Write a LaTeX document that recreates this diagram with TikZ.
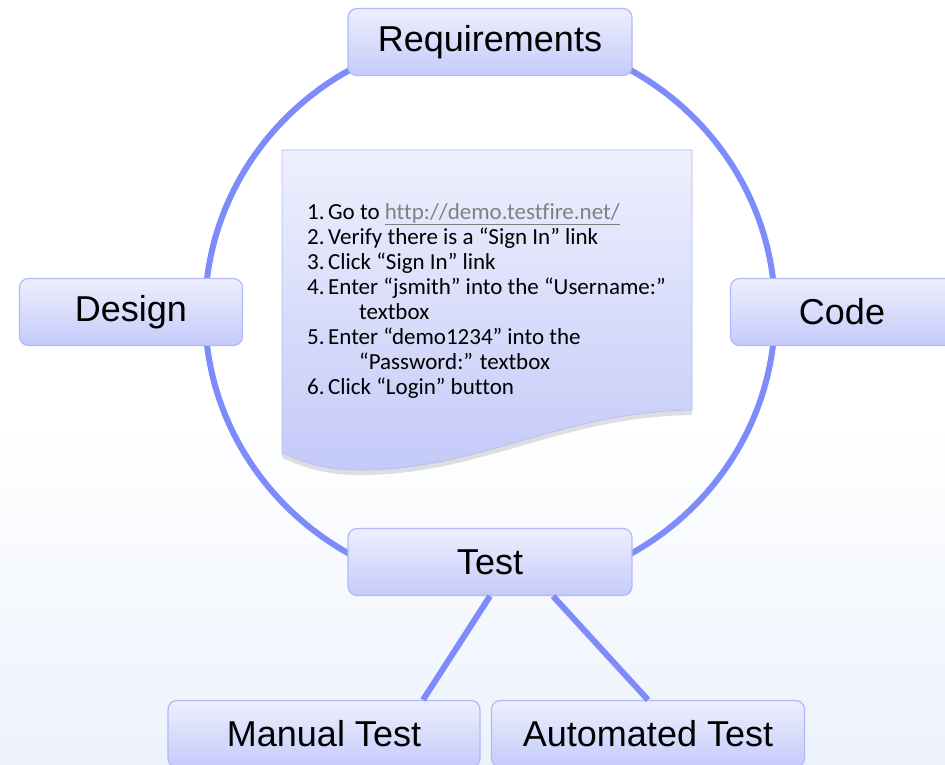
\documentclass[tikz,border=0pt]{standalone}
\usepackage{fontspec}
\setmainfont{Liberation Sans}
\newfontfamily\calib[Ligatures=NoCommon]{Carlito}
\usetikzlibrary{shadows}
\definecolor{ring}{RGB}{125,140,250}
\definecolor{boxline}{RGB}{176,186,250}
\definecolor{boxtop}{RGB}{237,239,253}
\definecolor{boxbot}{RGB}{196,203,250}
\definecolor{notetop}{RGB}{238,240,253}
\definecolor{notebot}{RGB}{196,202,248}
\definecolor{bgblue}{RGB}{236,242,252}
\definecolor{linkgray}{RGB}{128,128,128}

\begin{document}
\begin{tikzpicture}[x=1pt,y=-1pt,
  phase/.style={draw=boxline, line width=1.2pt, rounded corners=9pt,
    top color=boxtop, bottom color=boxbot, minimum height=67pt,
    inner sep=0pt, font=\fontsize{36}{40}\selectfont},
  link/.style={ring, line width=6pt}]
\useasboundingbox (0,0) rectangle (945,765);
\clip (0,0) rectangle (945,765);
\fill[white] (0,0) rectangle (945,765);
\shade[top color=white, bottom color=bgblue] (0,420) rectangle (945,765);
% the cycle
\draw[link] (490,312) ellipse [x radius=285pt, y radius=278pt];
% test script note
\path[draw=boxline, line width=0.6pt, top color=notetop, bottom color=notebot,
  drop shadow={shadow xshift=0pt, shadow yshift=-5pt, opacity=.25, fill=gray}]
  (282,150) -- (692,150) -- (692,410)
  .. controls (560,412) and (480,470) .. (360,470)
  .. controls (320,470) and (300,460) .. (282,453) -- cycle;
\node[anchor=north west, inner sep=0pt, align=left,
  font=\calib\fontsize{23}{25}\selectfont] (steps) at (307,203)
  {\makebox[21pt][l]{1.}Go to \textcolor{linkgray}{\underline{http://demo.testfire.net/}}\\
   \makebox[21pt][l]{2.}Verify there is a “Sign In” link\\
   \makebox[21pt][l]{3.}Click “Sign In” link\\
   \makebox[21pt][l]{4.}Enter “jsmith” into the “Username:”\\
   \hspace*{52pt}textbox\\
   \makebox[21pt][l]{5.}Enter “demo1234” into the\\
   \hspace*{52pt}“Password:” textbox\\
   \makebox[21pt][l]{6.}Click “Login” button};
% phases
\node[phase, minimum width=284pt] (req) at (490,42) {Requirements};
\node[phase, minimum width=223pt] (design) at (131,312) {Design};
\node[phase, minimum width=223pt] (code) at (842,312) {Code};
\node[phase, minimum width=284pt] (test) at (490,562) {Test};
\node[phase, minimum width=312pt] (manual) at (324,734) {Manual Test};
\node[phase, minimum width=313pt] (auto) at (648,734) {Automated Test};
\draw[link] (test.south) -- ([xshift=99pt]manual.north);
\draw[link] ([xshift=63pt]test.south) -- (auto.north);
\end{tikzpicture}
\end{document}
